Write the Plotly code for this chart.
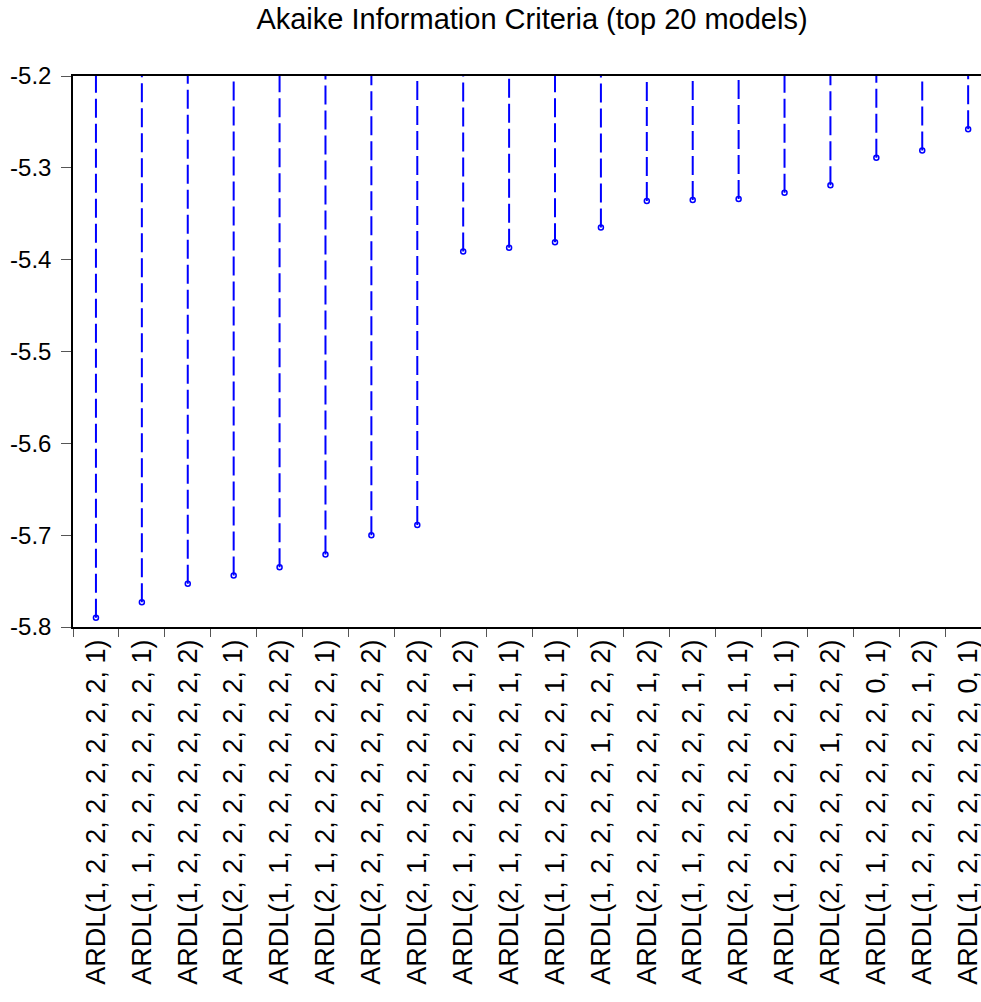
import plotly.graph_objects as go

models = [
    "ARDL(1, 2, 2, 2, 2, 2, 2, 2, 1)",
    "ARDL(1, 1, 2, 2, 2, 2, 2, 2, 1)",
    "ARDL(1, 2, 2, 2, 2, 2, 2, 2, 2)",
    "ARDL(2, 2, 2, 2, 2, 2, 2, 2, 1)",
    "ARDL(1, 1, 2, 2, 2, 2, 2, 2, 2)",
    "ARDL(2, 1, 2, 2, 2, 2, 2, 2, 1)",
    "ARDL(2, 2, 2, 2, 2, 2, 2, 2, 2)",
    "ARDL(2, 1, 2, 2, 2, 2, 2, 2, 2)",
    "ARDL(2, 1, 2, 2, 2, 2, 2, 1, 2)",
    "ARDL(2, 1, 2, 2, 2, 2, 2, 1, 1)",
    "ARDL(1, 1, 2, 2, 2, 2, 2, 1, 1)",
    "ARDL(1, 2, 2, 2, 2, 1, 2, 2, 2)",
    "ARDL(2, 2, 2, 2, 2, 2, 2, 1, 2)",
    "ARDL(1, 1, 2, 2, 2, 2, 2, 1, 2)",
    "ARDL(2, 2, 2, 2, 2, 2, 2, 1, 1)",
    "ARDL(1, 2, 2, 2, 2, 2, 2, 1, 1)",
    "ARDL(2, 2, 2, 2, 2, 1, 2, 2, 2)",
    "ARDL(1, 1, 2, 2, 2, 2, 2, 0, 1)",
    "ARDL(1, 2, 2, 2, 2, 2, 2, 1, 2)",
    "ARDL(1, 2, 2, 2, 2, 2, 2, 0, 1)",
]
aic = [-5.790, -5.773, -5.753, -5.744, -5.735, -5.721, -5.700, -5.689,
       -5.391, -5.387, -5.381, -5.365, -5.336, -5.335, -5.334, -5.327,
       -5.319, -5.289, -5.281, -5.258]

y_ticks = [-5.8, -5.7, -5.6, -5.5, -5.4, -5.3, -5.2]
y_tick_text = ["-5.8", "-5.7", "-5.6", "-5.5", "-5.4", "-5.3", "-5.2"]
y_top = -5.2

stem_x, stem_y = [], []
for m, v in zip(models, aic):
    stem_x += [m, m, None]
    stem_y += [v, y_top, None]

FONT = "Liberation Sans, Arial, sans-serif"
BLUE = "#0000FF"

fig = go.Figure()
fig.add_trace(go.Scatter(
    x=stem_x, y=stem_y, mode="lines",
    line=dict(color=BLUE, width=2, dash="19px,6px"),
    hoverinfo="skip", showlegend=False, cliponaxis=False,
))
fig.add_trace(go.Scatter(
    x=models, y=aic, mode="markers",
    marker=dict(symbol="circle-open", size=5, color=BLUE, line=dict(width=1.5, color=BLUE)),
    showlegend=False, cliponaxis=False,
))

fig.update_layout(
    width=981, height=1002, autosize=False,
    margin=dict(l=73, r=0, t=76, b=375, pad=0),
    paper_bgcolor="white", plot_bgcolor="white",
    font=dict(family=FONT, color="black"),
    title=dict(
        text="Akaike Information Criteria (top 20 models)",
        font=dict(family=FONT, size=29, color="black"),
        x=0.5055, xref="paper", xanchor="center",
        y=1 - 19 / 1002, yref="container", yanchor="middle",
    ),
)
fig.update_xaxes(
    type="category", categoryorder="array", categoryarray=models,
    range=[-0.5, 19.28],
    tickson="boundaries", ticks="outside", ticklen=8, tickwidth=1, tickcolor="#555555",
    tickangle=-90, tickfont=dict(family=FONT, size=27, color="black"),
    showline=True, linecolor="black", linewidth=1.5, mirror=True,
    showgrid=False, zeroline=False, automargin=False,
)
fig.update_yaxes(
    range=[-5.8, -5.2], tickvals=y_ticks, ticktext=y_tick_text,
    ticks="outside", ticklen=10, tickwidth=1, tickcolor="#555555",
    ticklabelstandoff=5,
    tickfont=dict(family=FONT, size=24, color="black"),
    showline=True, linecolor="black", linewidth=1.5, mirror=False,
    showgrid=False, zeroline=False, automargin=False,
)

fig.write_html(
    "out.html",
    config={"displayModeBar": False},
    post_script="document.body.style.margin='0';document.body.style.overflow='hidden';",
)
